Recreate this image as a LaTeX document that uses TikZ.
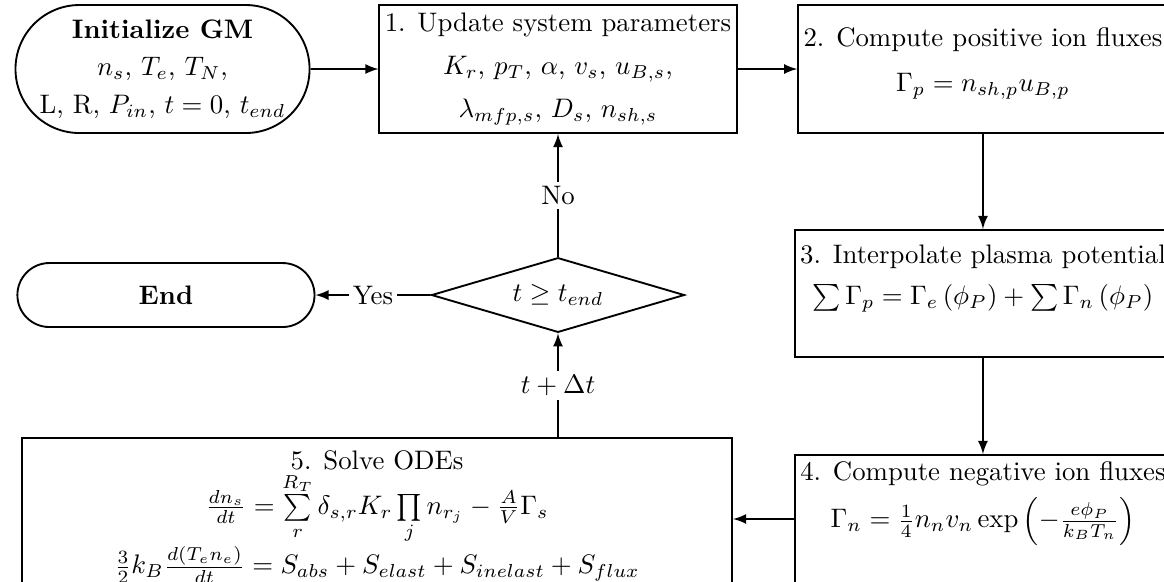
\documentclass[tikz,border=0pt]{standalone}
\usepackage{amsmath}
\usetikzlibrary{shapes.misc,shapes.geometric}

\tikzset{
	stepnode/.style={draw, rectangle, align=center, inner sep=2pt},
	termnode/.style={draw, rounded rectangle, align=center, inner sep=2pt},
	testnode/.style={draw, diamond, shape aspect=3.4, inner sep=0pt, minimum width=3.32cm, minimum height=0.98cm},
	flow/.style={-latex},
	lbl/.style={fill=white, inner sep=1.5pt}
}

\begin{document}
\begin{tikzpicture}[line width=0.7pt]
	\useasboundingbox (0,0) rectangle (15.276,7.625);
	% top row
	\node[termnode, minimum width=4.00cm, minimum height=1.68cm] (init) at (2.133,6.719)
		{\textbf{Initialize GM}\\[2pt] $n_s$, $T_e$, $T_N$,\\[2pt] L, R, $P_{in}$, $t=0$, $t_{end}$};
	\node[stepnode, minimum width=4.65cm, minimum height=1.68cm] (upd) at (7.323,6.719)
		{1. Update system parameters\\[4pt] $K_r$, $p_T$, $\alpha$, $v_s$, $u_{B,s}$,\\[4pt] $\lambda_{mfp,s}$, $D_s$, $n_{sh,s}$};
	\node[stepnode, minimum width=4.80cm, minimum height=1.68cm, text depth=7pt] (pos) at (12.900,6.719)
		{2. Compute positive ion fluxes\\[5pt] $\Gamma_p = n_{sh,p}u_{B,p}$};
	% right column
	\node[stepnode, minimum width=4.88cm, minimum height=1.67cm, text depth=14pt] (pot) at (12.900,3.773)
		{3. Interpolate plasma potential\\[3pt] $\sum\Gamma_p = \Gamma_e\left(\phi_P\right) + \sum\Gamma_n\left(\phi_P\right)$};
	\node[stepnode, minimum width=4.88cm, minimum height=1.68cm, text depth=18pt] (neg) at (12.900,0.814)
		{4. Compute negative ion fluxes\\[3pt] $\Gamma_n = \frac{1}{4}n_n v_n \exp\left(-\frac{e\phi_P}{k_B T_n}\right)$};
	% bottom and middle
	\node[stepnode, minimum width=9.32cm, minimum height=2.07cm] (ode) at (4.948,0.840)
		{5. Solve ODEs\\
		$\frac{dn_s}{dt} = \sum\limits_{r}^{R_T}\delta_{s,r}K_r\prod\limits_{j}n_{r_j} - \frac{A}{V}\Gamma_s$\\
		$\frac{3}{2}k_B\frac{d(T_e n_e)}{dt} = S_{abs} + S_{elast} + S_{inelast} + S_{flux}$};
	\node[testnode] (check) at (7.323,3.753) {$t \geq t_{end}$};
	\node[termnode, minimum width=4.04cm, minimum height=0.84cm] (stop) at (2.178,3.753) {\textbf{End}};
	% connectors
	\draw[flow] (init) -- (upd);
	\draw[flow] (upd) -- (pos);
	\draw[flow] (pos) -- (pot);
	\draw[flow] (pot) -- (neg);
	\draw[flow] (neg.west) -- (ode.east |- neg.west);
	\draw[flow] (check.south |- ode.north) -- node[lbl] {$t + \Delta t$} (check.south);
	\draw[flow] (check) -- node[lbl] {No} (upd);
	\draw[flow] (check) -- node[lbl] {Yes} (stop);
\end{tikzpicture}
\end{document}
